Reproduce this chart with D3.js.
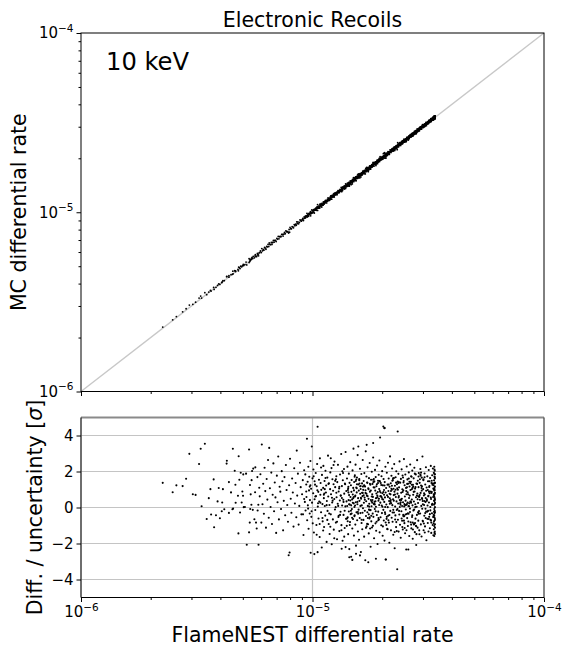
<!DOCTYPE html>
<html>
<head>
<meta charset="utf-8">
<script src="https://cdn.jsdelivr.net/npm/d3@7"></script>
<style>
  body { margin: 0; background: #fff; }
  svg { font-family: "DejaVu Sans", sans-serif; }
</style>
</head>
<body>
<div id="chart"></div>
<script>
// each point: [log10 FlameNEST rate, (MC - FlameNEST) / uncertainty]
const lowRatePoints = [
  [-5.647,1.37],[-5.604,0.85],[-5.588,1.23],[-5.561,1.19],[-5.546,1.6],[-5.532,2.98],[-5.517,0.74],[-5.505,0.7],
  [-5.49,2.42],[-5.483,3.26],[-5.465,3.54],[-5.479,0.07],[-5.457,-0.64],[-5.448,0.52],[-5.441,1.02],[-5.438,-0.39],
  [-5.427,1.56],[-5.425,-1.1],[-5.417,-0.43],[-5.41,0.34],[-5.405,1.08],[-5.4,-0.6],[-5.392,-0.21],[-5.39,0.28],
  [-5.387,1.02],[-5.381,-0.1],[-5.371,2.44],[-5.37,2.6],[-5.361,1.41],[-5.361,-0.3],[-5.352,0.84],[-5.346,-0.1],
  [-5.344,3.26],[-5.343,-0.06],[-5.336,2.04],[-5.333,1.26],[-5.332,0.26],[-5.322,0.65],[-5.32,-1.44],[-5.319,2.85],
  [-5.316,1.54],[-5.313,-0.28],[-5.31,1.93],[-5.306,0.28],[-5.303,0.89],[-5.3,0.65],[-5.299,1.84],[-5.297,0.02],
  [-5.292,0.03],[-5.287,1.88],[-5.284,-2.07],[-5.274,3.22],[-5.274,-1.38],[-5.271,-0.84],[-5.27,1.25],[-5.269,-0.08],
  [-5.267,0.73],[-5.264,0.15],[-5.263,1.52],[-5.261,2.03],[-5.258,-0.13],[-5.256,2.16],[-5.251,-0.65],[-5.248,0.85],
  [-5.247,2.23],[-5.244,-0.84],[-5.241,-1.17],[-5.238,1.69],[-5.237,-0.17],[-5.234,0.15],[-5.233,-2.07],[-5.23,1.1]
];
const midRatePoints = [
  [-5.228,0.62],[-5.225,1.85],[-5.221,-0.84],[-5.219,3.5],[-5.216,0.18],[-5.213,1.32],[-5.21,-0.35],[-5.207,2.21],
  [-5.204,0.91],[-5.201,-1.12],[-5.198,1.58],[-5.195,0.44],[-5.192,2.64],[-5.189,-0.57],[-5.187,3.31],[-5.184,1.07],
  [-5.181,0.03],[-5.178,1.94],[-5.175,-0.92],[-5.172,0.71],[-5.169,2.45],[-5.166,-0.21],[-5.163,1.39],[-5.16,0.56],
  [-5.157,-1.41],[-5.154,1.77],[-5.151,0.29],[-5.148,2.83],[-5.145,-0.66],[-5.142,1.15],[-5.139,0.88],[-5.136,-0.08],
  [-5.133,2.02],[-5.13,1.46],[-5.127,-1.27],[-5.124,0.37],[-5.121,1.69],[-5.118,-0.43],[-5.115,2.36],[-5.112,0.97],
  [-5.109,0.14],[-5.106,-0.79],[-5.103,-2.65],[-5.101,1.24],[-5.099,-2.5],[-5.097,2.71],[-5.094,0.49],[-5.091,-0.29],
  [-5.088,1.61],[-5.085,0.83],[-5.082,-1.06],[-5.079,2.18],[-5.076,0.22],[-5.073,1.36],[-5.07,-0.54],[-5.068,3.16],
  [-5.066,0.66],[-5.063,1.88],[-5.06,-0.95],[-5.057,0.09],[-5.054,2.49],[-5.051,1.13],[-5.048,-0.38],[-5.045,0.74],
  [-5.042,1.52],[-5.039,-1.53],[-5.036,2.07],[-5.033,0.31],[-5.03,-0.17],[-5.027,1.28],
  [-5.026,0.58],[-5.024,3.82],[-5.023,-0.71],[-5.021,1.43],[-5.02,0.12],[-5.018,2.26],[-5.017,-1.18],[-5.015,0.95],
  [-5.014,1.71],[-5.012,-0.33],[-5.011,0.41],[-5.009,2.58],[-5.008,-2.51],[-5.006,1.04],[-5.005,-0.52],[-5.003,3.39],
  [-5.002,0.27],[-5.0,1.62],[-4.999,-0.88],[-4.997,0.79],[-4.996,2.11],[-4.994,-1.39],[-4.992,-2.59],[-4.991,0.46],
  [-4.989,1.27],[-4.988,-0.14],[-4.986,1.92],[-4.985,0.63],[-4.983,-0.97],[-4.982,1.18],[-4.98,2.42],[-4.978,4.49],
  [-4.978,-2.48],[-4.977,0.05],[-4.975,0.87],[-4.974,-0.61],[-4.972,1.54],[-4.971,0.33],[-4.969,-1.64],[-4.968,2.73],
  [-4.966,0.71],[-4.965,1.36],[-4.963,-0.26],[-4.962,0.98],[-4.96,-2.22],[-4.959,1.81],[-4.957,0.19],[-4.956,-0.77],
  [-4.954,1.09],[-4.953,2.31],[-4.951,0.52],[-4.95,-1.08],[-4.948,1.47],[-4.947,0.08],[-4.945,-0.45],[-4.944,2.04],
  [-4.942,0.83],[-4.941,1.22],[-4.939,-1.91],[-4.938,0.36],[-4.936,1.66],[-4.935,-0.19],[-4.933,2.88],[-4.932,0.61],
  [-4.93,-0.92],[-4.929,1.35],[-4.927,0.14],[-4.926,-1.47],[-4.924,1.02],[-4.923,1.95],[-4.921,-0.38],[-4.92,0.74],
  [-4.918,2.19],[-4.917,-2.04],[-4.915,0.28],[-4.914,1.57],[-4.912,-0.66],[-4.911,0.93],[-4.909,1.29],[-4.908,-1.23],
  [-4.906,0.47],[-4.905,2.55],[-4.903,-0.11],[-4.902,1.13],[-4.9,0.02],[-4.899,-0.84],[-4.897,1.74],[-4.896,0.57],
  [-4.894,-1.76],[-4.893,1.41],[-4.891,0.21],[-4.89,2.37],[-4.888,-0.53],[-4.887,0.89],[-4.885,1.06],[-4.884,-1.31],
  [-4.882,0.39],[-4.881,1.83],[-4.879,-0.24],[-4.878,0.66],[-4.876,2.97],[-4.875,-0.98],[-4.873,1.19],[-4.872,0.11],
  [-4.87,-1.85],[-4.869,1.51],[-4.867,0.43],[-4.866,-0.41],[-4.864,2.14],[-4.863,0.77],[-4.861,-1.14],[-4.86,1.33],
  [-4.858,0.06],[-4.857,3.08],[-4.855,-0.63],[-4.854,0.92],
  [-4.951,0.71],[-4.887,-0.46],[-5.012,1.16],[-4.923,-1.07],[-4.868,1.92],[-4.976,0.24],[-5.041,-0.38],[-4.902,1.48],[-4.939,0.13],[-4.875,-1.26],
  [-4.995,1.73],[-4.916,0.54],[-4.861,-0.18],[-4.963,2.22],[-5.027,0.89],[-4.894,-0.79],[-4.931,1.31],[-4.982,-1.51],[-4.878,0.66],[-4.947,1.02],
  [-5.019,-0.06],[-4.909,2.36],[-4.866,0.31],[-4.957,-0.58],[-4.991,1.46],[-4.884,1.15],[-4.928,-0.33],[-5.036,0.47],[-4.871,2.01],[-4.969,-0.92],
  [-4.897,0.82],[-4.944,1.64],[-5.004,-0.21],[-4.913,0.38],[-4.863,-1.62],[-4.979,0.96],[-4.921,2.74],[-4.889,0.09],[-4.954,-1.28],[-5.009,1.23],
  [-4.873,0.53],[-4.936,-0.69],[-4.899,1.57],[-4.966,0.27],[-5.031,1.84],[-4.881,-0.41],[-4.949,0.78],[-4.906,-1.71],[-4.988,0.61],[-4.859,1.29]
];
const highRatePoints = [
  [-4.853,0.34],[-4.852,-1.02],[-4.851,1.61],[-4.85,0.08],[-4.849,2.27],[-4.848,-0.55],[-4.847,0.97],[-4.846,-1.48],[-4.845,1.15],[-4.844,0.41],
  [-4.843,-0.22],[-4.843,1.88],[-4.842,0.69],[-4.841,-2.31],[-4.84,1.37],[-4.839,0.16],[-4.838,-0.81],[-4.837,2.52],[-4.836,0.58],[-4.835,-0.37],
  [-4.834,1.24],[-4.833,-2.74],[-4.832,0.87],[-4.831,1.53],[-4.83,-0.09],[-4.829,0.45],[-4.828,-1.17],[-4.827,2.06],[-4.826,0.72],[-4.825,-0.64],
  [-4.824,1.09],[-4.823,3.27],[-4.822,0.23],[-4.821,-1.56],[-4.82,1.42],[-4.819,0.03],[-4.818,-0.43],[-4.817,1.79],[-4.816,0.61],[-4.815,-0.95],
  [-4.814,2.38],[-4.813,0.29],[-4.812,-2.12],[-4.811,1.11],[-4.81,-0.27],[-4.809,0.84],[-4.808,1.67],[-4.807,-0.71],[-4.806,0.18],[-4.805,2.91],
  [-4.804,-1.33],[-4.803,0.52],[-4.802,1.28],[-4.801,-0.12],[-4.8,0.94],[-4.799,-1.79],[-4.798,1.58],[-4.797,0.37],[-4.796,-0.58],[-4.795,2.15],
  [-4.794,0.76],[-4.793,-0.31],[-4.792,1.03],[-4.791,-2.47],[-4.79,0.49],[-4.789,1.86],[-4.788,-0.86],[-4.787,0.12],[-4.786,1.34],[-4.785,-1.21],
  [-4.784,0.63],[-4.783,2.64],[-4.782,-0.04],[-4.781,0.98],[-4.78,-0.69],[-4.779,1.47],[-4.778,0.26],[-4.777,-1.62],[-4.776,1.91],[-4.775,0.55],
  [-4.774,-0.18],[-4.773,1.16],[-4.772,-2.93],[-4.771,0.81],[-4.77,3.12],[-4.769,-0.47],[-4.768,0.35],[-4.767,1.72],[-4.766,-1.05],[-4.765,0.66],
  [-4.764,1.39],[-4.763,-0.26],[-4.762,2.23],[-4.761,0.09],[-4.76,-0.93],[-4.759,1.07],[-4.758,0.48],[-4.757,-1.44],[-4.756,1.63],[-4.755,0.21],
  [-4.754,-0.61],[-4.753,2.47],[-4.752,0.88],[-4.751,-0.15],[-4.75,1.26],[-4.749,-2.18],[-4.748,0.42],[-4.747,1.54],[-4.746,-0.77],[-4.745,0.07],
  [-4.744,1.99],[-4.743,-1.11],[-4.742,0.73],[-4.741,1.31],[-4.74,-0.34],[-4.739,0.59],[-4.738,2.78],[-4.737,-0.52],[-4.736,1.12],[-4.735,0.19],
  [-4.734,-1.71],[-4.733,1.45],[-4.732,0.32],[-4.731,-0.08],[-4.73,2.09],[-4.729,0.94],[-4.728,-0.88],[-4.727,1.69],[-4.726,0.04],[-4.725,-1.29],
  [-4.724,1.18],[-4.723,0.53],[-4.722,-0.42],[-4.721,2.33],[-4.72,0.67],[-4.719,-2.03],[-4.718,0.86],[-4.717,1.49],[-4.716,-0.23],[-4.715,0.38],
  [-4.714,1.82],[-4.713,-0.67],[-4.712,0.14],[-4.711,2.61],[-4.71,-1.38],[-4.709,0.91],[-4.708,3.89],[-4.707,0.27],[-4.706,-0.54],[-4.705,1.36],
  [-4.704,0.62],[-4.703,-0.99],[-4.702,1.74],[-4.701,0.11],[-4.7,-0.31],[-4.699,2.02],[-4.698,0.79],[-4.697,-1.57],[-4.696,1.23],[-4.695,0.44],
  [-4.694,4.5],[-4.694,-0.13],[-4.693,1.58],[-4.692,-0.72],[-4.691,0.97],[-4.69,4.41],[-4.69,0.31],[-4.689,-1.84],[-4.688,1.41],[-4.687,0.56],
  [-4.686,-0.36],[-4.685,2.26],[-4.684,0.83],[-4.683,-2.89],[-4.682,1.08],[-4.681,0.17],[-4.68,-0.63],[-4.679,1.93],[-4.678,0.68],[-4.677,-1.19],
  [-4.676,1.27],[-4.675,0.02],[-4.674,2.49],[-4.673,-0.46],[-4.672,0.92],[-4.671,1.61],[-4.67,-0.84],[-4.669,0.36],[-4.668,-1.96],[-4.667,1.15],
  [-4.666,0.51],[-4.665,2.84],[-4.664,-0.19],[-4.663,0.73],[-4.662,1.35],[-4.661,-1.27],[-4.66,0.24],[-4.659,1.76],[-4.658,-0.57],[-4.657,0.99],
  [-4.656,2.17],[-4.655,0.13],[-4.654,-0.79],[-4.653,1.52],[-4.652,0.46],[-4.651,-1.51],[-4.65,1.04],[-4.649,0.69],[-4.648,-0.28],[-4.647,2.41],
  [-4.646,0.88],[-4.645,-2.26],[-4.644,1.21],[-4.643,0.05],[-4.642,-0.44],[-4.641,1.68],[-4.64,0.58],[-4.639,-1.09],[-4.638,2.01],[-4.637,0.34],
  [-4.636,-0.14],[-4.635,1.29],[-4.634,-3.43],[-4.633,0.77],[-4.632,4.22],[-4.632,1.44],[-4.631,-0.68],[-4.63,0.22],[-4.629,1.87],[-4.628,-1.34],
  [-4.627,0.64],[-4.626,1.12],[-4.625,-0.39],[-4.624,2.56],[-4.623,0.41],[-4.622,-0.96],[-4.621,1.38],[-4.62,0.15],[-4.619,-1.68],[-4.618,1.59],
  [-4.617,0.82],[-4.616,-0.21],[-4.615,2.12],[-4.614,0.49],[-4.613,-0.74],[-4.612,1.01],[-4.611,1.78],[-4.61,-1.22],[-4.609,0.29],[-4.608,0.95],
  [-4.607,-0.48],[-4.606,1.47],[-4.605,2.69],[-4.604,0.06],[-4.603,-0.87],[-4.602,1.24],[-4.601,0.61],[-4.6,-1.43],[-4.599,1.83],[-4.598,0.38],
  [-4.597,-0.11],[-4.596,1.09],[-4.595,-2.33],[-4.594,0.74],[-4.593,2.28],[-4.592,0.19],[-4.591,-0.59],[-4.59,1.56],[-4.589,0.85],[-4.588,-1.03],
  [-4.587,1.32],[-4.586,0.08],[-4.585,-0.35],[-4.584,1.95],[-4.583,0.53],[-4.582,-1.58],[-4.581,1.17],[-4.58,0.66],[-4.579,-0.25],[-4.578,2.39],
  [-4.577,0.97],[-4.576,-0.82],[-4.575,1.43],[-4.574,0.27],[-4.573,-1.16],[-4.572,1.71],[-4.571,0.44],[-4.57,-0.53],[-4.569,2.05],[-4.568,0.12],
  [-4.567,-1.74],[-4.566,1.26],[-4.565,0.71],[-4.564,-0.16],[-4.563,1.62],[-4.562,0.33],[-4.561,-0.91],[-4.56,2.21],[-4.559,0.89],[-4.558,-1.37],
  [-4.557,1.05],[-4.556,0.18],[-4.555,-0.62],[-4.554,1.84],[-4.553,0.57],[-4.552,-2.08],[-4.551,1.33],[-4.55,0.04],[-4.549,-0.41],[-4.548,2.63],
  [-4.547,0.78],[-4.546,-1.12],[-4.545,1.49],[-4.544,0.25],[-4.543,-0.73],[-4.542,1.13],[-4.541,1.91],[-4.54,-0.2],[-4.539,0.59],[-4.538,-1.49],
  [-4.537,1.37],[-4.536,0.43],[-4.535,-0.33],[-4.534,2.14],[-4.533,0.81],[-4.532,-0.94],[-4.531,1.22],[-4.53,0.09],[-4.529,-1.61],[-4.528,1.66],
  [-4.527,0.52],[-4.526,-0.07],[-4.525,2.83],[-4.524,0.36],[-4.523,-0.78],[-4.522,1.02],[-4.521,1.57],[-4.52,-1.26],[-4.519,0.67],[-4.518,0.14],
  [-4.517,-0.46],[-4.516,1.89],[-4.515,0.72],[-4.514,-1.05],[-4.513,1.28],[-4.512,0.31],[-4.511,-0.58],[-4.51,2.24],[-4.509,0.93],[-4.508,-1.82],
  [-4.507,1.11],[-4.506,0.45],[-4.505,-0.24],[-4.504,1.73],[-4.503,0.11],[-4.502,-0.86],[-4.501,1.46],[-4.5,0.62],[-4.499,-1.33],[-4.498,2.08],
  [-4.497,0.28],[-4.496,-0.52],[-4.495,1.19],[-4.494,0.79],[-4.493,-1.15],[-4.492,1.64],[-4.491,0.03],[-4.49,-0.69],[-4.489,2.31],[-4.488,0.47],
  [-4.487,-1.41],[-4.486,1.36],[-4.485,0.87],[-4.484,-0.32],[-4.483,1.79],[-4.482,0.21],[-4.481,-0.97],[-4.48,2.17],[-4.479,0.58],[-4.478,-1.54]
];
const coreRatePoints = [
  [-4.617,0.42],[-4.803,-0.35],[-4.529,1.08],[-4.744,0.61],[-4.488,-0.72],[-4.671,1.27],[-4.842,0.18],[-4.562,-0.94],[-4.706,0.83],[-4.495,1.46],
  [-4.583,0.07],[-4.769,-1.13],[-4.652,1.62],[-4.517,0.36],[-4.821,0.95],[-4.604,-0.48],[-4.733,0.22],[-4.548,1.31],[-4.687,-0.26],[-4.476,0.74],
  [-4.792,1.19],[-4.638,-0.81],[-4.511,0.53],[-4.756,-0.12],[-4.574,1.74],[-4.829,-0.57],[-4.663,0.31],[-4.539,-1.27],[-4.712,1.03],[-4.483,0.16],
  [-4.598,-0.39],[-4.779,0.68],[-4.627,1.41],[-4.504,-0.63],[-4.748,0.94],[-4.556,0.02],[-4.811,1.55],[-4.681,-0.97],[-4.526,0.47],[-4.727,-0.21],
  [-4.592,1.12],[-4.837,0.39],[-4.645,-1.36],[-4.497,0.88],[-4.763,1.37],[-4.569,-0.44],[-4.701,0.57],[-4.534,1.83],[-4.788,-0.68],[-4.621,0.24],
  [-4.478,1.05],[-4.739,-1.02],[-4.587,0.73],[-4.816,0.11],[-4.657,1.21],[-4.513,-0.31],[-4.694,0.86],[-4.551,-1.48],[-4.774,0.43],[-4.609,1.67],
  [-4.491,-0.16],[-4.722,1.29],[-4.577,0.33],[-4.848,-0.76],[-4.641,0.99],[-4.521,1.52],[-4.753,-0.54],[-4.596,0.14],[-4.676,-1.21],[-4.543,0.62],
  [-4.797,1.33],[-4.633,-0.09],[-4.486,0.81],[-4.716,-0.71],[-4.565,1.16],[-4.824,0.52],[-4.668,-0.42],[-4.531,1.94],[-4.742,0.27],[-4.612,-1.08],
  [-4.499,0.65],[-4.784,-0.29],[-4.581,1.43],[-4.698,0.04],[-4.557,-0.86],[-4.809,1.07],[-4.649,0.38],[-4.515,-1.39],[-4.735,1.58],[-4.603,0.19],
  [-4.479,-0.53],[-4.767,0.76],[-4.571,1.26],[-4.834,-0.18],[-4.661,0.92],[-4.524,-0.74],[-4.709,1.45],[-4.589,0.28],[-4.751,-1.17],[-4.537,0.69],
  [-4.793,0.09],[-4.629,1.36],[-4.493,-0.37],[-4.719,0.58],[-4.561,-0.11],[-4.818,1.71],[-4.684,-0.83],[-4.546,0.46],[-4.758,1.02],[-4.615,-0.61],
  [-4.481,1.33],[-4.731,0.17],[-4.594,-1.26],[-4.845,0.84],[-4.655,1.49],[-4.509,-0.22],[-4.691,0.71],[-4.574,-0.95],[-4.777,1.24],[-4.623,0.03],
  [-4.502,0.97],[-4.746,-0.46],[-4.584,1.61],[-4.806,0.31],[-4.643,-0.67],[-4.527,1.18],[-4.713,0.49],[-4.552,-1.04],[-4.786,0.82],[-4.607,1.39],
  [-4.487,-0.84],[-4.728,0.35],[-4.568,1.09],[-4.831,-0.33],[-4.674,0.59],[-4.533,1.77],[-4.761,-0.58],[-4.599,0.13],[-4.703,1.25],[-4.544,-0.27],
  [-4.815,0.66],[-4.636,-1.31],[-4.496,1.14],[-4.741,0.42],[-4.579,-0.06],[-4.798,1.52],[-4.666,0.21],[-4.519,-0.89],[-4.724,0.78],[-4.591,1.31],
  [-4.474,-0.43],[-4.771,0.96],[-4.613,0.08],[-4.851,-0.61],[-4.648,1.64],[-4.506,0.37],[-4.696,-1.05],[-4.563,0.87],[-4.782,1.16],[-4.626,-0.19],
  [-4.489,0.55],[-4.737,1.42],[-4.586,-0.78],[-4.826,0.26],[-4.659,1.04],[-4.541,-0.35],[-4.707,0.63],[-4.558,1.88],[-4.764,-0.91],[-4.618,0.44],
  [-4.482,1.26],[-4.749,-0.14],[-4.595,0.91],[-4.813,1.47],[-4.679,-0.52],[-4.523,0.18],[-4.717,1.36],[-4.566,-1.22],[-4.791,0.54],[-4.631,0.99],
  [-4.498,-0.64],[-4.732,1.11],[-4.576,0.32],[-4.839,-0.97],[-4.667,0.76],[-4.536,1.57],[-4.755,0.05],[-4.608,-0.41],[-4.689,1.22],[-4.549,0.67],
  [-4.804,-0.25],[-4.639,1.38],[-4.484,0.15],[-4.723,-0.79],[-4.571,1.01],[-4.822,0.58],[-4.651,-0.13],[-4.516,1.68],[-4.745,0.34],[-4.602,-1.14],
  [-4.492,0.89],[-4.776,1.21],[-4.588,-0.32],[-4.699,0.47],[-4.555,1.13],[-4.819,-0.48],[-4.644,0.72],[-4.512,-0.07],[-4.738,1.54],[-4.619,0.29],
  [-4.477,-0.88],[-4.762,0.63],[-4.578,1.35],[-4.833,0.12],[-4.672,-0.71],[-4.528,0.94],[-4.711,1.47],[-4.593,-0.36],[-4.783,0.81],[-4.634,1.07],
  [-4.501,-0.19],[-4.726,0.51],[-4.567,-0.84],[-4.808,1.29],[-4.662,0.41],[-4.542,1.72],[-4.757,-0.38],[-4.611,0.86],[-4.686,0.03],[-4.553,-1.01],
  [-4.794,1.18],[-4.628,0.56],[-4.485,1.49],[-4.715,-0.59],[-4.582,0.23],[-4.846,1.06],[-4.654,-0.28],[-4.518,0.79],[-4.752,1.32],[-4.605,-0.73]
];
const edgeRatePoints = [
  [-4.477,1.24],[-4.477,-0.42],[-4.476,0.68],[-4.476,1.93],[-4.476,-1.21],[-4.475,0.15],[-4.475,1.51],[-4.475,-0.77],[-4.474,0.94],[-4.474,2.26],
  [-4.474,-0.08],[-4.474,-1.58],[-4.473,0.37],[-4.473,1.72],[-4.473,-0.56],[-4.473,1.08],[-4.472,0.52],[-4.472,-1.34],[-4.472,1.39],[-4.472,-0.19],
  [-4.472,2.04],[-4.471,0.81],[-4.471,-0.93],[-4.471,1.61],[-4.471,0.26],[-4.471,-1.47],[-4.471,1.17],[-4.471,0.02],[-4.471,1.85],[-4.471,-0.64],
  [-4.471,0.44],[-4.471,-1.12],[-4.472,0.97],[-4.472,1.68],[-4.473,-0.31],[-4.473,2.11],[-4.474,0.61],[-4.474,-1.03],[-4.475,1.33],[-4.475,0.38],
  [-4.476,-0.52],[-4.476,1.02],[-4.471,1.36],[-4.472,-0.71],[-4.473,0.74],[-4.474,1.87],[-4.475,-0.24],[-4.471,-0.27],[-4.472,0.21],[-4.473,-1.41]
];
const outlierPoints = [
  [-4.874,-2.29],[-4.857,-2.2],[-4.841,-2.76],[-4.828,-2.91],[-4.812,-2.57],[-4.795,-2.66],[-4.759,-3.04],[-4.726,-2.85],
  [-4.684,-2.89],[-4.586,-2.33],[-4.802,3.39],[-4.766,3.48],[-4.738,3.58],[-4.688,4.41]
];
const mcRelUncertainty = 0.011;

const xTickExps = [-6, -5, -4];
const pullTicks = [-4, -2, 0, 2, 4];
const titleText = "Electronic Recoils";
const energyText = "10 keV";

const width = 565, height = 653;
const left = 81, right = 544;
const topPanel = { top: 33, bottom: 391.5 };
const botPanel = { top: 417.5, bottom: 597.5 };
const dotRadius = 1.05;

const allPoints = [].concat(lowRatePoints, midRatePoints, highRatePoints, coreRatePoints, edgeRatePoints, outlierPoints)
  .map(([e, p]) => {
    const fn = Math.pow(10, e);
    return { fn, mc: fn * (1 + p * mcRelUncertainty), pull: p };
  });

const majors = xTickExps.map(e => Math.pow(10, e));
const minors = [];
xTickExps.slice(0, -1).forEach(e => {
  for (let k = 2; k <= 9; k++) minors.push(k * Math.pow(10, e));
});

const x = d3.scaleLog().domain([1e-6, 1e-4]).range([left, right]);
const yTop = d3.scaleLog().domain([1e-6, 1e-4]).range([topPanel.bottom, topPanel.top]);
const yBot = d3.scaleLinear().domain([-5, 5]).range([botPanel.bottom, botPanel.top]);

const svg = d3.select("#chart").append("svg")
  .attr("width", width).attr("height", height);

function powerLabels(g) {
  g.selectAll(".tick text").each(function(d) {
    const t = d3.select(this);
    const e = Math.round(Math.log10(d));
    t.text(null);
    t.append("tspan").text("10");
    t.append("tspan").attr("font-size", "10.5px").attr("dy", "-0.62em")
      .text((e < 0 ? "\u2212" : "") + Math.abs(e));
  });
}

function styleAxis(g) {
  g.select(".domain").remove();
  g.selectAll(".tick line").attr("stroke", "#000").attr("stroke-width", 1);
  g.selectAll(".tick text").attr("font-size", "15px").attr("fill", "#000")
    .attr("font-family", "DejaVu Sans");
}

// ---------- top panel ----------
svg.append("line")
  .attr("x1", x(1e-6)).attr("y1", yTop(1e-6))
  .attr("x2", x(1e-4)).attr("y2", yTop(1e-4))
  .attr("stroke", "#c8c8c8").attr("stroke-width", 1.4);

svg.append("g").selectAll("circle")
  .data(allPoints).enter().append("circle")
  .attr("cx", d => x(d.fn)).attr("cy", d => yTop(d.mc))
  .attr("r", 0.9).attr("fill", "#000");

svg.append("g").attr("transform", `translate(0,${topPanel.bottom})`)
  .call(d3.axisBottom(x).tickValues(majors).tickSize(4.5).tickFormat(""))
  .call(styleAxis);
svg.append("g").attr("transform", `translate(0,${topPanel.bottom})`)
  .call(d3.axisBottom(x).tickValues(minors).tickSize(2.5).tickFormat(""))
  .call(styleAxis);

svg.append("g").attr("transform", `translate(${left},0)`)
  .call(d3.axisLeft(yTop).tickValues(majors).tickSize(4.5).tickPadding(3))
  .call(styleAxis).call(powerLabels);
svg.append("g").attr("transform", `translate(${left},0)`)
  .call(d3.axisLeft(yTop).tickValues(minors).tickSize(2.5).tickFormat(""))
  .call(styleAxis);

svg.append("rect")
  .attr("x", left).attr("y", topPanel.top)
  .attr("width", right - left).attr("height", topPanel.bottom - topPanel.top)
  .attr("fill", "none").attr("stroke", "#000").attr("stroke-width", 1);

svg.append("text").attr("x", (left + right) / 2).attr("y", 26.5)
  .attr("text-anchor", "middle").attr("font-size", "20.5px").text(titleText);
svg.append("text").attr("x", 106).attr("y", 69.5)
  .attr("font-size", "24.2px").text(energyText);
svg.append("text")
  .attr("transform", `translate(25.5,${(topPanel.top + topPanel.bottom) / 2}) rotate(-90)`)
  .attr("text-anchor", "middle").attr("font-size", "20.5px").text("MC differential rate");

// ---------- bottom panel ----------
const grid = svg.append("g").attr("stroke", "#c4c4c4").attr("stroke-width", 1.2);
grid.selectAll(".h").data(pullTicks).enter().append("line")
  .attr("x1", left).attr("x2", right)
  .attr("y1", d => yBot(d)).attr("y2", d => yBot(d));
grid.selectAll(".v").data(majors).enter().append("line")
  .attr("x1", d => x(d)).attr("x2", d => x(d))
  .attr("y1", botPanel.top).attr("y2", botPanel.bottom);

svg.append("g").selectAll("circle")
  .data(allPoints).enter().append("circle")
  .attr("cx", d => x(d.fn)).attr("cy", d => yBot(d.pull))
  .attr("r", dotRadius).attr("fill", "#000");

svg.append("g").attr("transform", `translate(0,${botPanel.bottom})`)
  .call(d3.axisBottom(x).tickValues(majors).tickSize(4.5).tickPadding(4.5))
  .call(styleAxis).call(powerLabels);
svg.append("g").attr("transform", `translate(0,${botPanel.bottom})`)
  .call(d3.axisBottom(x).tickValues(minors).tickSize(2.5).tickFormat(""))
  .call(styleAxis);

svg.append("g").attr("transform", `translate(${left},0)`)
  .call(d3.axisLeft(yBot).tickValues(pullTicks).tickSize(4.5).tickPadding(3)
    .tickFormat(d => d < 0 ? "\u2212" + Math.abs(d) : String(d)))
  .call(styleAxis);

// spines
svg.append("line").attr("x1", left).attr("x2", right)
  .attr("y1", botPanel.top).attr("y2", botPanel.top)
  .attr("stroke", "#8a8a8a").attr("stroke-width", 2);
svg.append("line").attr("x1", left).attr("x2", left)
  .attr("y1", botPanel.top).attr("y2", botPanel.bottom)
  .attr("stroke", "#000").attr("stroke-width", 1);
svg.append("line").attr("x1", right).attr("x2", right)
  .attr("y1", botPanel.top).attr("y2", botPanel.bottom)
  .attr("stroke", "#333").attr("stroke-width", 1);
svg.append("line").attr("x1", left).attr("x2", right)
  .attr("y1", botPanel.bottom).attr("y2", botPanel.bottom)
  .attr("stroke", "#000").attr("stroke-width", 1);

svg.append("text").attr("x", (left + right) / 2).attr("y", 641.5)
  .attr("text-anchor", "middle").attr("font-size", "20.5px").text("FlameNEST differential rate");

const yl = svg.append("text")
  .attr("transform", `translate(41.5,${(botPanel.top + botPanel.bottom) / 2}) rotate(-90)`)
  .attr("text-anchor", "middle").attr("font-size", "20.5px");
yl.append("tspan").text("Diff. / uncertainty [");
yl.append("tspan").attr("font-style", "italic").text("\u03c3");
yl.append("tspan").text("]");
</script>
</body>
</html>
